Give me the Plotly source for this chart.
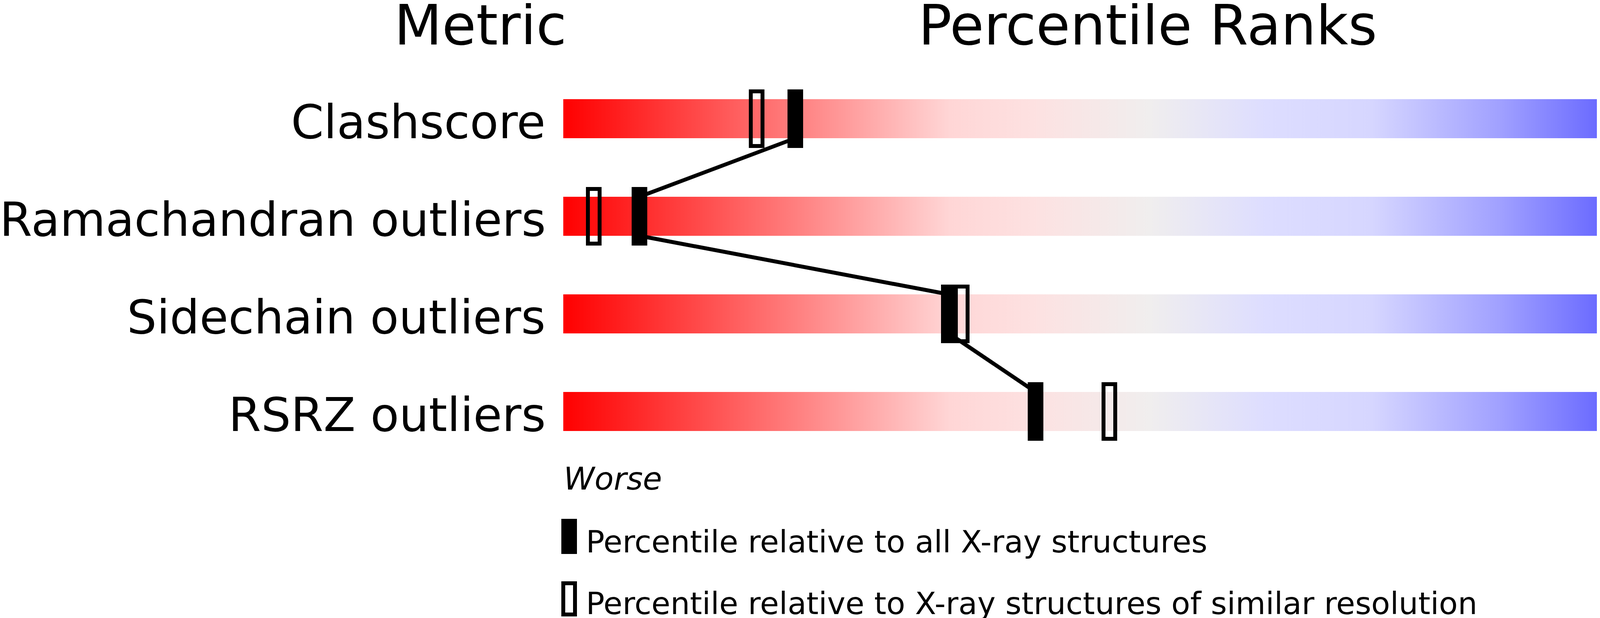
import plotly.graph_objects as go

# ---------------- data ----------------
metrics = ["Clashscore", "Ramachandran outliers", "Sidechain outliers", "RSRZ outliers"]
values = ["13", "2.2%", "3.8%", "3.8%"]
pct_all = [19.8, 6.5, 32.9, 40.3]          # percentile relative to all X-ray structures
pct_similar = [16.5, 2.6, 34.0, 46.6]      # percentile relative to similar resolution
headers = ["Metric", "Percentile Ranks", "Value"]
scale_labels = ["Worse", "Better"]
legend_labels = ["Percentile relative to all X-ray structures",
                 "Percentile relative to X-ray structures of similar resolution"]

gradient = [
    [0.00, "rgb(255,0,0)"],
    [0.10, "rgb(255,64,64)"],
    [0.20, "rgb(255,128,128)"],
    [0.33, "rgb(255,214,214)"],
    [0.40, "rgb(253,225,225)"],
    [0.50, "rgb(240,238,238)"],
    [0.60, "rgb(221,221,255)"],
    [0.69, "rgb(214,214,255)"],
    [0.80, "rgb(160,160,255)"],
    [0.90, "rgb(96,96,255)"],
    [1.00, "rgb(0,0,255)"],
]

# ---------------- layout geometry (pixels) ----------------
W, H = 4823, 1583
BAR_L_PX, BAR_W_PX = 1434, 3000
ROW0_PX, ROW_STEP = 296, 250
PX_X = BAR_W_PX / 100.0
x_min = -BAR_L_PX / PX_X
x_max = x_min + W / PX_X
y_top = -ROW0_PX / ROW_STEP
y_bot = y_top + H / ROW_STEP
HALF = 50 / ROW_STEP
FONT = "DejaVu Sans"


def y_px(px):
    return y_top + px / ROW_STEP


fig = go.Figure()

# gradient bars
for i, m in enumerate(metrics):
    fig.add_trace(go.Scatter(
        x=[0, 100, 100, 0, 0],
        y=[i - HALF, i - HALF, i + HALF, i + HALF, i - HALF],
        mode="lines", line=dict(width=0, color="rgba(0,0,0,0)"),
        fill="toself",
        fillgradient=dict(type="horizontal", colorscale=gradient, start=0, stop=100),
        hoverinfo="skip", showlegend=False, name=m,
    ))

# connector line between "all" percentiles
cx, cy = [], []
for i in range(len(metrics) - 1):
    cx += [pct_all[i], pct_all[i + 1]]
    cy += [i + HALF, i + 1 - HALF]
fig.add_trace(go.Scatter(x=cx, y=cy, mode="lines", line=dict(color="black", width=10),
                         hoverinfo="skip", showlegend=False))

shapes = []
for i in range(len(metrics)):
    # hollow marker (similar resolution)
    shapes.append(dict(type="rect", xref="x", yref="y",
                       xsizemode="pixel", xanchor=pct_similar[i], x0=-15, x1=15,
                       ysizemode="pixel", yanchor=i, y0=-70, y1=70,
                       line=dict(color="black", width=10), fillcolor="rgba(0,0,0,0)"))
    # filled marker (all structures)
    shapes.append(dict(type="rect", xref="x", yref="y",
                       xsizemode="pixel", xanchor=pct_all[i], x0=-20, x1=20,
                       ysizemode="pixel", yanchor=i, y0=-75, y1=75,
                       line=dict(width=0), fillcolor="black"))

# legend icons
shapes.append(dict(type="rect", xref="x", yref="y",
                   xsizemode="pixel", xanchor=0, x0=-5, x1=35,
                   ysizemode="pixel", yanchor=y_px(1366), y0=-45, y1=45,
                   line=dict(width=0), fillcolor="black"))
shapes.append(dict(type="rect", xref="x", yref="y",
                   xsizemode="pixel", xanchor=0, x0=0, x1=30,
                   ysizemode="pixel", yanchor=y_px(1526), y0=-40, y1=40,
                   line=dict(color="black", width=10), fillcolor="rgba(0,0,0,0)"))

ann = []


def text(t, x, y_base_px, size, xanchor, xshift=0):
    # place text so its baseline sits at y_base_px
    ann.append(dict(text=t, x=x, y=y_px(y_base_px), xref="x", yref="y",
                    xanchor=xanchor, yanchor="middle", showarrow=False,
                    xshift=xshift, yshift=0.346 * size,
                    font=dict(family=FONT, size=size, color="black")))


HDR = 142
text(headers[0], 0, 106, HDR, "right", 10)
text(headers[1], 50, 106, HDR, "center", -4)
text(headers[2], 100, 106, HDR, "left", -5)

ROW = 120
for i in range(len(metrics)):
    base = ROW0_PX + i * ROW_STEP + 50
    text(metrics[i], 0, base, ROW, "right", -43)
    text(values[i], 100, base, ROW, "left", 45)

text("<i>" + scale_labels[0] + "</i>", 0, 1246, 80, "left", -1)
text("<i>" + scale_labels[1] + "</i>", 100, 1246, 80, "right", 1)

text(legend_labels[0], 0, 1407, 79, "left", 56)
text(legend_labels[1], 0, 1565, 79, "left", 56)

fig.update_layout(
    width=W, height=H,
    margin=dict(l=0, r=0, t=0, b=0),
    paper_bgcolor="white", plot_bgcolor="white",
    xaxis=dict(range=[x_min, x_max], visible=False, fixedrange=True),
    yaxis=dict(range=[y_bot, y_top], visible=False, fixedrange=True),
    shapes=shapes, annotations=ann, showlegend=False,
    font=dict(family=FONT),
)

fig.write_html("out.html")
